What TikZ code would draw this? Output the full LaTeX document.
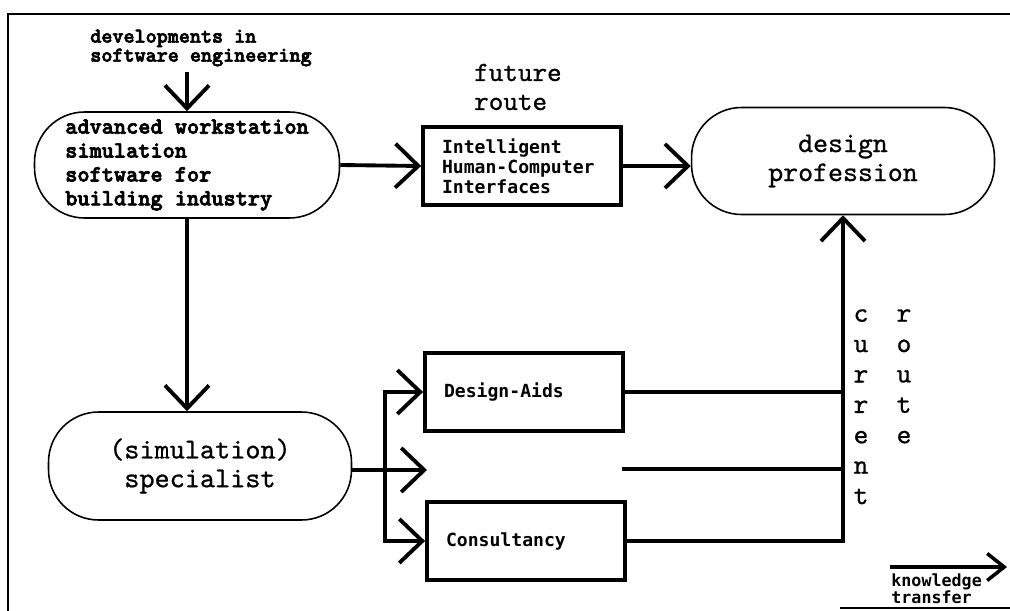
\documentclass[tikz,border=0pt]{standalone}
\usepackage{fontspec}
\usetikzlibrary{arrows.meta}
\newfontfamily\courierfont{lmmono10-regular.otf}[FakeBold=0.8]
\newfontfamily\courierbold{lmmonolt10-bold.otf}[FakeBold=3]
\newfontfamily\screenfont{DejaVu Sans Mono}

\tikzset{
    pill/.style={draw, line width=0.9pt, rounded corners=1cm, minimum width=6.06cm, minimum height=2.14cm, align=left},
    panel/.style={draw, line width=2.2pt, minimum height=1.56cm, inner xsep=0.38cm, text width=3.2cm, align=left,
        font={\screenfont\bfseries\fontsize{10.3}{11.3}\selectfont}},
    flow/.style={line width=2.2pt, -{Straight Barb[length=4.6mm, width=8.8mm]}},
    link/.style={line width=2.2pt},
    frame/.style={line width=1.1pt}
}

\begin{document}
\begin{tikzpicture}[x=0.02cm, y=-0.02cm]
    \useasboundingbox (0,0) rectangle (1010,611);
    \draw[frame] (1010,14) -- (8,14) -- (8,611);
    \draw[frame] (840,608) -- (1010,608);

    \node[align=left, font={\courierbold\fontsize{12}{10.8}\selectfont}] (dev) at (201,48) {developments in\\software engineering};
    \node[pill, minimum width=6.1cm, minimum height=2.12cm, font={\courierbold\fontsize{13.2}{13.6}\selectfont}] (adv) at (187,165)
        {advanced workstation\\simulation\\software for\\building industry};
    \node[panel] (ihci) at (522,166) {Intelligent\\Human-Computer\\Interfaces};
    \node[align=left, anchor=west, font={\courierfont\fontsize{15.8}{16.5}\selectfont}] (future) at (468,87) {future\\route};
    \node[pill, align=center, font={\courierfont\fontsize{16.2}{16.5}\selectfont}] (design) at (843,161) {design\\profession};
    \node[pill, minimum height=2.16cm, align=center, font={\courierfont\fontsize{16.4}{16.4}\selectfont}] (spec) at (200,466) {(simulation)\\specialist};
    \node[panel] (aids) at (524,392) {Design-Aids};
    \node[panel] (cons) at (526,541) {Consultancy};

    \draw[flow] (adv.north |- dev.south) -- (adv.north);
    \draw[flow] (adv.east) -- (ihci.west);
    \draw[flow] (ihci.east) -- (ihci.east -| design.west);
    \draw[flow] (adv.south) -- (adv.south |- spec.north);

    % branching into the transfer routes
    \coordinate (branch) at (385,470);
    \coordinate (gap) at (427,470);
    \coordinate (gapout) at (622,469);
    \draw[flow] (spec.east |- branch) -- (gap);
    \draw[flow] (branch) |- (aids.west);
    \draw[flow] (branch) |- (cons.west);
    \fill (528,443) circle (0.08);
    \fill (528,459) circle (0.08);
    \fill (528,476) circle (0.08);
    \fill (528,492) circle (0.08);

    \draw[flow] (cons.east) -| (design.south);
    \draw[link] (aids.east) -- (aids.east -| design.south);
    \draw[link] (gapout) -- (gapout -| design.south);

    \node[anchor=north, align=center, inner sep=0pt, font={\courierfont\fontsize{16}{17.3}\selectfont}] (current) at (861,309) {c\\u\\r\\r\\e\\n\\t};
    \node[anchor=north, align=center, inner sep=0pt, font={\courierfont\fontsize{16}{17.3}\selectfont}] (route) at (904,309) {r\\o\\u\\t\\e};

    \coordinate (kstart) at (890,567);
    \coordinate (kend) at (1007,567);
    \draw[line width=2pt, -{Straight Barb[length=3.4mm, width=5.4mm]}] (kstart) -- (kend);
    \node[anchor=north west, align=left, inner sep=0pt, font={\screenfont\bfseries\fontsize{9.5}{9.8}\selectfont}] (know) at (891,573) {knowledge\\transfer};
\end{tikzpicture}
\end{document}
